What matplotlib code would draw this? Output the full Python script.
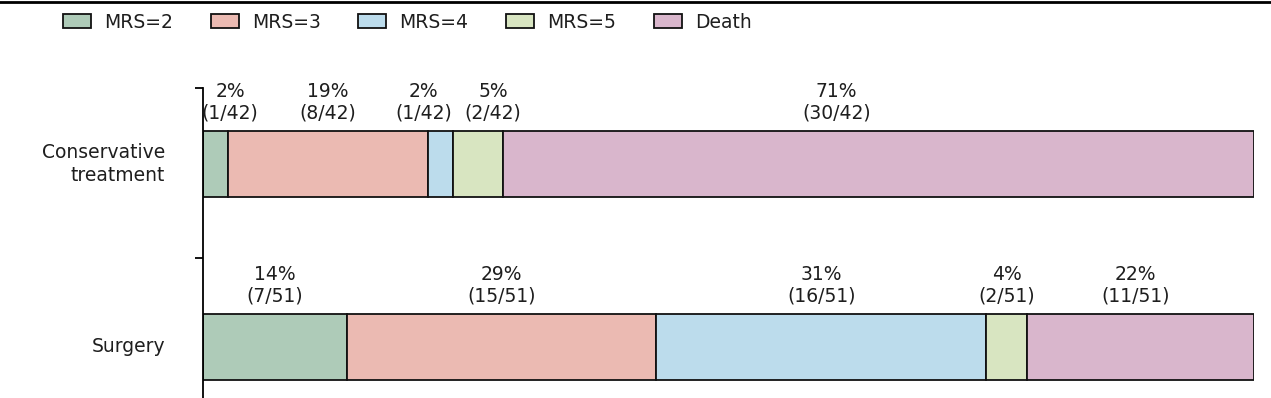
import numpy as np
import matplotlib
matplotlib.use('Agg')
from matplotlib import pyplot as plt
from matplotlib.patches import Patch
from matplotlib.lines import Line2D
import matplotlib.transforms as mtransforms

plt.rcParams['font.family'] = ['DejaVu Sans']

groups = ['Surgery', 'Conservative\ntreatment']
categories = ['MRS=2', 'MRS=3', 'MRS=4', 'MRS=5', 'Death']
colors = ['#aecbb8', '#ebbab2', '#bcdcec', '#d8e5c1', '#d9b6cc']
totals = [51, 42]
counts = [[7, 15, 16, 2, 11],
          [1, 8, 1, 2, 30]]
pct_labels = [['14%', '29%', '31%', '4%', '22%'],
              ['2%', '19%', '2%', '5%', '71%']]
# horizontal nudges for crowded labels (fraction of bar)
label_shift = [[0, 0, 0, 0, -0.005],
               [0.014, 0, -0.016, 0.014, -0.040]]

fs = 13.5
txt_col = '#1e1e1e'

fig = plt.figure(figsize=(12.71, 3.98), dpi=100)
ax = fig.add_axes([203 / 1271, 0, 1051 / 1271, 310 / 398])

bar_h = 0.36
for gi, g in enumerate(groups):
    fr = np.array(counts[gi]) / totals[gi]
    left = 0.0
    for ci in range(len(categories)):
        ax.barh(gi, fr[ci], left=left, height=bar_h, color=colors[ci],
                edgecolor='#111111', linewidth=1.3)
        cx = left + fr[ci] / 2 + label_shift[gi][ci]
        ax.text(cx, gi + bar_h / 2 + 0.045, '%s\n(%d/%d)' % (pct_labels[gi][ci], counts[gi][ci], totals[gi]),
                ha='center', va='bottom', fontsize=fs, linespacing=1.2, color=txt_col)
        left += fr[ci]

ax.set_xlim(0, 1)
ax.set_ylim(-0.279, 1.415)
for s in ['top', 'right', 'bottom']:
    ax.spines[s].set_visible(False)
ax.spines['left'].set_linewidth(1.3)
ax.set_xticks([])
ax.set_yticks([0.486, 1.415])
ax.set_yticklabels([])
ax.tick_params(axis='y', length=6, width=1.3, direction='out')

trans = mtransforms.blended_transform_factory(fig.transFigure, ax.transData)
for gi, g in enumerate(groups):
    ax.text(165 / 1271, gi, g, transform=trans, ha='right', va='center',
            fontsize=fs, linespacing=1.25, color=txt_col)

fig.add_artist(Line2D([0, 1], [0.995, 0.995], color='black', lw=2, transform=fig.transFigure))

handles = [Patch(facecolor=c, edgecolor='#111111', linewidth=1.3) for c in colors]
fig.legend(handles, categories, loc='upper left', bbox_to_anchor=(46 / 1271, 1.01),
           ncol=5, frameon=False, fontsize=fs, handlelength=1.5, handleheight=0.75,
           columnspacing=2.0, handletextpad=0.7, labelcolor=txt_col)

plt.savefig('out.png', dpi=100)
